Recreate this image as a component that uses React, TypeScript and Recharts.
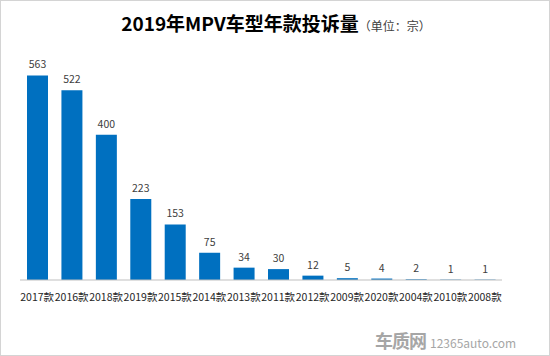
import { Bar, BarChart, LabelList, XAxis, YAxis } from 'recharts';

const categories = [
	'2017款', '2016款', '2018款', '2019款', '2015款', '2014款', '2013款',
	'2011款', '2012款', '2009款', '2020款', '2004款', '2010款', '2008款'
];
const complaints = [563, 522, 400, 223, 153, 75, 34, 30, 12, 5, 4, 2, 1, 1];

const rows = categories.map((name, i) => ({ name, value: complaints[i] }));

const font = '"Noto Sans CJK SC", "Noto Sans", sans-serif';

export default function App() {
	return (
		<div
			style={{
				position: 'fixed',
				left: 0,
				top: 0,
				width: 550,
				height: 356,
				background: '#fff',
				boxSizing: 'border-box',
				border: '1px solid #d4d4d4',
				fontFamily: font
			}}
		>
			<div
				style={{
					position: 'absolute',
					top: 8,
					left: 0,
					width: 550,
					textAlign: 'center',
					whiteSpace: 'nowrap'
				}}
			>
				<span style={{ fontSize: 19, fontWeight: 700, color: '#000' }}>
					2019年MPV车型年款投诉量
				</span>
				<span style={{ fontSize: 12, color: '#404040' }}>（单位：宗）</span>
			</div>
			<div style={{ position: 'absolute', left: -1, top: -1 }}>
				<BarChart
					width={550}
					height={356}
					data={rows}
					margin={{ top: 62, right: 48, bottom: 46, left: 20 }}
				>
					<XAxis
						dataKey="name"
						tickLine={false}
						axisLine={{ stroke: '#bfbfbf' }}
						interval={0}
						tick={{ fontSize: 10.5, fill: '#262626', fontFamily: font }}
						tickMargin={8}
					/>
					<YAxis hide domain={[0, 600]} />
					<Bar dataKey="value" fill="#0070c0" barSize={21} isAnimationActive={false}>
						<LabelList
							dataKey="value"
							position="top"
							offset={7}
							style={{ fontSize: 10.5, fill: '#404040', fontFamily: font }}
						/>
					</Bar>
				</BarChart>
			</div>
			<div
				style={{
					position: 'absolute',
					left: 374,
					top: 326,
					whiteSpace: 'nowrap',
					color: '#a6a6a6'
				}}
			>
				<span style={{ fontSize: 18, fontWeight: 700, letterSpacing: -1 }}>车质网</span>
				<span style={{ fontSize: 12, marginLeft: 4 }}>12365auto.com</span>
			</div>
		</div>
	);
}
